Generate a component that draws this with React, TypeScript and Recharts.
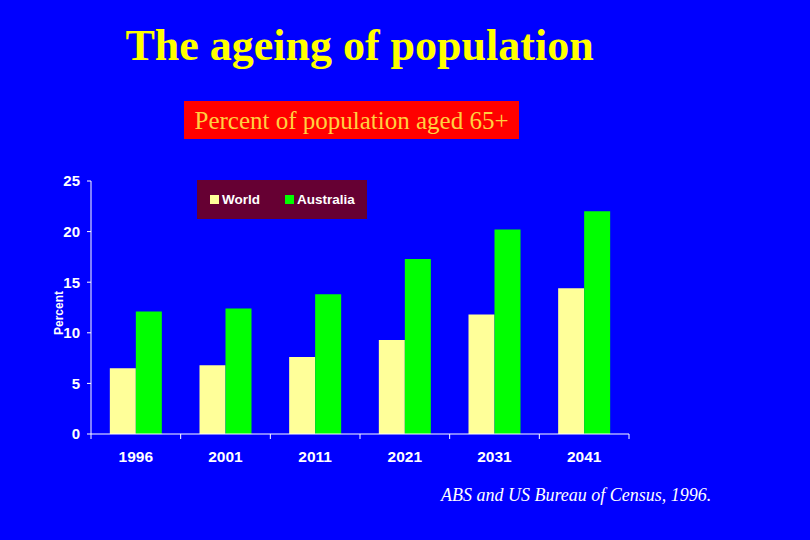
import React from 'react';
import { BarChart, Bar, XAxis, YAxis, Legend } from 'recharts';

const years = ['1996', '2001', '2011', '2021', '2031', '2041'];
const world = [6.5, 6.8, 7.6, 9.3, 11.8, 14.4];
const australia = [12.1, 12.4, 13.8, 17.3, 20.2, 22.0];
const yTicks = [0, 5, 10, 15, 20, 25];

const data = years.map((year, i) => ({ year, World: world[i], Australia: australia[i] }));

const BG = '#0000ff';
const WORLD_COLOR = '#ffff99';
const AUS_COLOR = '#00ff00';

const YearTick = (props: any) => {
  const { x, y, payload, index, visibleTicksCount } = props;
  const half = payload.offset || 0;
  const axisY = y - 8;
  return (
    <g>
      <line x1={x - half} y1={axisY} x2={x - half} y2={axisY + 5} stroke="#fff" strokeWidth={1} />
      {index === visibleTicksCount - 1 && (
        <line x1={x + half} y1={axisY} x2={x + half} y2={axisY + 5} stroke="#fff" strokeWidth={1} />
      )}
      <text x={x} y={axisY + 28} textAnchor="middle" fill="#fff"
        style={{ fontFamily: 'Liberation Sans, Arial, sans-serif', fontWeight: 'bold', fontSize: 15.5 }}>
        {payload.value}
      </text>
    </g>
  );
};

const LegendBox = () => (
  <div style={{
    background: '#660033', width: 170, height: 39, display: 'flex', alignItems: 'center',
    fontFamily: 'Liberation Sans, Arial, sans-serif', fontWeight: 'bold', fontSize: 13.5, color: '#fff',
  }}>
    <span style={{ display: 'inline-block', width: 9, height: 9, background: WORLD_COLOR, marginLeft: 13, marginRight: 3 }} />
    <span>World</span>
    <span style={{ display: 'inline-block', width: 9, height: 9, background: AUS_COLOR, marginLeft: 25, marginRight: 3 }} />
    <span>Australia</span>
  </div>
);

const App: React.FC = () => {
  return (
    <div style={{ position: 'fixed', left: 0, top: 0, width: 810, height: 540, background: BG, overflow: 'hidden' }}>
      <div style={{
        position: 'absolute', left: 0, width: 719, top: 20, textAlign: 'center', color: '#ffff00',
        fontFamily: 'Liberation Serif, Times New Roman, serif', fontWeight: 'bold', fontSize: 44, lineHeight: '52px',
      }}>
        The ageing of population
      </div>
      <div style={{
        position: 'absolute', left: 184, top: 101, width: 335, height: 38, background: '#ff0000',
        color: '#ffd040', fontFamily: 'Liberation Serif, Times New Roman, serif', fontSize: 25,
        lineHeight: '40px', textAlign: 'center',
      }}>
        Percent of population aged 65+
      </div>
      <div style={{
        position: 'absolute', left: 441, top: 485, color: '#fff', fontStyle: 'italic',
        fontFamily: 'Liberation Serif, Times New Roman, serif', fontSize: 18,
      }}>
        ABS and US Bureau of Census, 1996.
      </div>
      <div style={{ position: 'absolute', left: 0, top: 0 }}>
        <BarChart width={810} height={540} data={data}
          margin={{ top: 181, right: 181, bottom: 37, left: 0 }}
          barCategoryGap="21%" barGap={0}>
          <XAxis dataKey="year" height={30} stroke="#fff" axisLine={{ stroke: '#fff' }}
            tickLine={false} tick={<YearTick />} interval={0} />
          <YAxis width={91} domain={[0, 25]} ticks={yTicks} interval={0}
            axisLine={{ stroke: '#fff' }} tickLine={{ stroke: '#fff' }} tickSize={4} tickMargin={7}
            tick={{ fill: '#fff', fontFamily: 'Liberation Sans, Arial, sans-serif', fontWeight: 'bold', fontSize: 15 }}
            label={{
              content: () => (
                <text x={63} y={313} transform="rotate(-90 63 313)" textAnchor="middle" fill="#fff"
                  style={{ fontFamily: 'Liberation Sans, Arial, sans-serif', fontWeight: 'bold', fontSize: 12 }}>
                  Percent
                </text>
              ),
            }} />
          <Legend content={<LegendBox />} wrapperStyle={{ position: 'absolute', left: 197, top: 180, width: 170 }} />
          <Bar dataKey="World" fill={WORLD_COLOR} isAnimationActive={false} />
          <Bar dataKey="Australia" fill={AUS_COLOR} isAnimationActive={false} />
        </BarChart>
      </div>
    </div>
  );
};

export default App;
